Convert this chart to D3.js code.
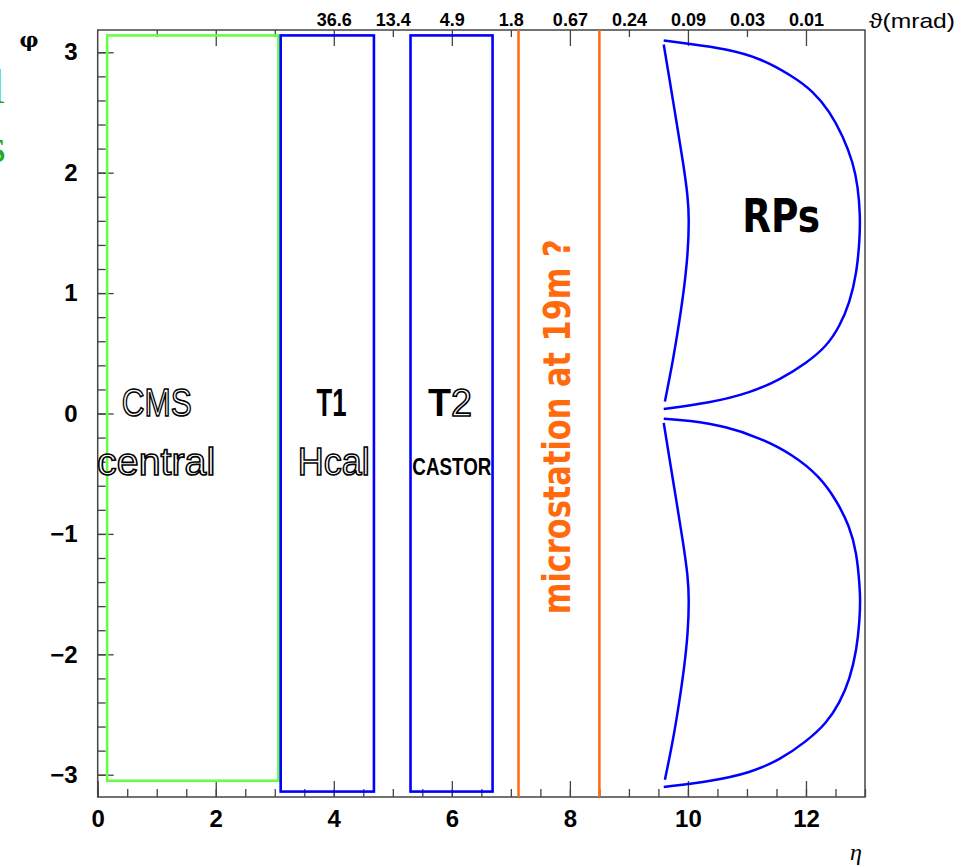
<!DOCTYPE html>
<html>
<head>
<meta charset="utf-8">
<script src="https://cdn.jsdelivr.net/npm/d3@7"></script>
<style>
  html, body { margin: 0; padding: 0; background: #fff; }
  svg { display: block; }
</style>
</head>
<body>
<svg id="chart" width="974" height="867"></svg>
<script>
// Forward detector acceptance in the (eta, phi) plane

// Detector boxes
const detectorNames  = ["CMS central", "T1 Hcal", "T2 CASTOR"];
const detectorEtaMin = [0.16, 3.10, 5.30];
const detectorEtaMax = [3.06, 4.68, 6.69];
const detectorPhiMin = [-3.05, -3.14, -3.14];
const detectorPhiMax = [3.14, 3.14, 3.14];

// Candidate microstation positions (eta)
const microstationEta = [7.13, 8.50];

// Axis ticks
const etaTicks = [0, 2, 4, 6, 8, 10, 12];
const phiTicks = [-3, -2, -1, 0, 1, 2, 3];
const thetaTickEta = [4, 5, 6, 7, 8, 9, 10, 11, 12];
const thetaTickLabels = ["36.6", "13.4", "4.9", "1.8", "0.67", "0.24", "0.09", "0.03", "0.01"];

// Roman Pot acceptance contours, [eta, phi]
const rpUpperOuter = [
  [9.59, 3.097], [10.00, 3.072], [10.65, 3.028], [11.22, 2.953], [11.78, 2.80],
  [12.12, 2.676], [12.40, 2.51], [12.63, 2.30], [12.80, 2.08], [12.88, 1.887],
  [12.92, 1.64], [12.91, 1.444], [12.86, 1.168], [12.74, 0.918], [12.57, 0.724],
  [12.35, 0.558], [12.01, 0.42], [11.56, 0.281], [11.05, 0.171], [10.37, 0.088],
  [9.59, 0.038]
];
const rpUpperInner = [
  [9.59, 3.064], [9.69, 2.77], [9.81, 2.41], [9.92, 2.08], [10.00, 1.80],
  [10.02, 1.61], [10.00, 1.334], [9.94, 1.056], [9.86, 0.78], [9.75, 0.447],
  [9.61, 0.10]
];
const rpLowerOuter = [
  [9.59, -0.043], [10.00, -0.057], [10.65, -0.107], [11.22, -0.203], [11.78, -0.342],
  [12.23, -0.522], [12.51, -0.716], [12.74, -0.937], [12.86, -1.158], [12.91, -1.436],
  [12.92, -1.546], [12.91, -1.713], [12.86, -1.962], [12.74, -2.211], [12.57, -2.404],
  [12.35, -2.571], [12.01, -2.723], [11.56, -2.875], [11.05, -2.986], [10.37, -3.056],
  [9.59, -3.102]
];
const rpLowerInner = [
  [9.59, -0.078], [9.69, -0.383], [9.81, -0.743], [9.92, -1.075], [10.00, -1.353],
  [10.02, -1.546], [10.00, -1.823], [9.94, -2.10], [9.86, -2.377], [9.75, -2.71],
  [9.61, -3.042]
];

const svg = d3.select("#chart");
const frame = { left: 97.7, right: 865, top: 30, bottom: 797 };

const x = d3.scaleLinear().domain([0, 13]).range([frame.left, frame.right]);
const y = d3.scaleLinear().domain([-3.185, 3.185]).range([frame.bottom, frame.top]);

const axisColor = "#444";
const sans = "Liberation Sans, Arial, sans-serif";

// Slide text cut at the left border
svg.append("text").attr("x", 5).attr("y", 103).attr("text-anchor", "end")
  .attr("font-family", "Liberation Serif").attr("font-size", 48)
  .attr("fill", "#22aa22").text("l");
svg.append("text").attr("x", 6).attr("y", 162).attr("text-anchor", "end")
  .attr("font-family", "Liberation Serif").attr("font-size", 48)
  .attr("fill", "#22aa22").text("s");

// ---- axes ----
function styleAxis(g) {
  g.select(".domain").remove();
  g.selectAll(".tick line").attr("stroke", axisColor).attr("stroke-width", 1.3);
  g.selectAll(".tick text").attr("fill", "#000");
}

// bottom eta axis: minor ticks every 0.5, major every 2
svg.append("g").attr("transform", `translate(0,${frame.bottom})`)
  .call(d3.axisBottom(x).tickValues(d3.range(0, 13.01, 0.5)).tickSize(-8).tickFormat(""))
  .call(styleAxis);
svg.append("g").attr("transform", `translate(0,${frame.bottom})`)
  .call(d3.axisBottom(x).tickValues(etaTicks).tickSize(-16).tickPadding(13).tickFormat(d3.format("d")))
  .call(styleAxis)
  .call(g => g.selectAll(".tick text")
    .attr("font-family", sans).attr("font-weight", "bold")
    .attr("font-size", 24));

// left phi axis: minor ticks every 0.2
svg.append("g").attr("transform", `translate(${frame.left},0)`)
  .call(d3.axisLeft(y).tickValues(d3.range(-3, 3.001, 0.2)).tickSize(-8).tickFormat(""))
  .call(styleAxis);
svg.append("g").attr("transform", `translate(${frame.left},0)`)
  .call(d3.axisLeft(y).tickValues(phiTicks).tickSize(-16).tickPadding(20)
    .tickFormat(d => d < 0 ? "\u2212" + Math.abs(d) : String(d)))
  .call(styleAxis)
  .call(g => g.selectAll(".tick text")
    .attr("font-family", sans).attr("font-weight", "bold")
    .attr("font-size", 24));

// top theta axis: long ticks at even eta, short at odd eta
svg.append("g").attr("transform", `translate(0,${frame.top})`)
  .call(d3.axisTop(x).tickValues(d3.range(1, 13, 2)).tickSize(-7).tickFormat(""))
  .call(styleAxis);
svg.append("g").attr("transform", `translate(0,${frame.top})`)
  .call(d3.axisTop(x).tickValues(d3.range(2, 13, 2)).tickSize(-16).tickFormat(""))
  .call(styleAxis);
svg.append("g").attr("transform", `translate(0,${frame.top})`)
  .call(d3.axisTop(x).tickValues(thetaTickEta).tickSize(0).tickPadding(4)
    .tickFormat((d, i) => thetaTickLabels[i]))
  .call(styleAxis)
  .call(g => g.selectAll(".tick text")
    .attr("font-family", sans).attr("font-weight", "bold")
    .attr("font-size", 18));

// frame
svg.append("rect")
  .attr("x", frame.left).attr("y", frame.top)
  .attr("width", frame.right - frame.left).attr("height", frame.bottom - frame.top)
  .attr("fill", "none").attr("stroke", axisColor).attr("stroke-width", 1.5);

// axis titles
svg.append("text").attr("x", 869).attr("y", 28)
  .attr("font-family", sans).attr("font-size", 21)
  .attr("textLength", 86).attr("lengthAdjust", "spacingAndGlyphs")
  .text("\u03d1(mrad)");
svg.append("text").attr("x", 29).attr("y", 47).attr("text-anchor", "middle")
  .attr("font-family", "DejaVu Serif, serif").attr("font-weight", "bold").attr("font-size", 21)
  .text("\u03c6");
svg.append("text").attr("x", 856).attr("y", 860).attr("text-anchor", "middle")
  .attr("font-family", "Liberation Serif, serif").attr("font-style", "italic").attr("font-size", 24)
  .text("\u03b7");

// ---- detector boxes ----
const boxColors = ["#66ff44", "#0000ff", "#0000ff"];
const boxes = detectorNames.map((n, i) => ({
  name: n, e0: detectorEtaMin[i], e1: detectorEtaMax[i],
  p0: detectorPhiMin[i], p1: detectorPhiMax[i], color: boxColors[i]
}));
svg.append("g").selectAll("rect").data(boxes).join("rect")
  .attr("x", d => x(d.e0)).attr("y", d => y(d.p1))
  .attr("width", d => x(d.e1) - x(d.e0)).attr("height", d => y(d.p0) - y(d.p1))
  .attr("fill", "none").attr("stroke", d => d.color).attr("stroke-width", 2.6);

// microstation lines
svg.append("g").selectAll("line").data(microstationEta).join("line")
  .attr("x1", d => x(d)).attr("x2", d => x(d))
  .attr("y1", frame.top).attr("y2", frame.bottom)
  .attr("stroke", "#ff6a0d").attr("stroke-width", 2.5);

// Roman Pot contours (smoothed B-spline through the sampled points)
const rpLine = d3.line().x(d => x(d[0])).y(d => y(d[1])).curve(d3.curveBasis);
svg.append("g").selectAll("path")
  .data([rpUpperOuter, rpUpperInner, rpLowerOuter, rpLowerInner]).join("path")
  .attr("d", rpLine).attr("fill", "none").attr("stroke", "#0000ff").attr("stroke-width", 2.5);

// ---- labels ----
function label(txt, eta, phi, size, len, opts = {}) {
  const t = svg.append("text")
    .attr("x", x(eta)).attr("y", y(phi))
    .attr("text-anchor", "middle")
    .attr("font-family", opts.family || sans)
    .attr("font-size", size)
    .attr("font-weight", opts.weight || "normal")
    .attr("textLength", len).attr("lengthAdjust", "spacingAndGlyphs");
  if (opts.outline) {
    t.attr("fill", "#fff").attr("stroke", "#000").attr("stroke-width", 1.6);
  } else {
    t.attr("fill", opts.fill || "#000");
  }
  t.text(txt);
  return t;
}
label("CMS", 1.0, -0.02, 39, 70, { outline: true });
label("central", 0.99, -0.51, 39, 118, { outline: true });
label("T1", 3.96, -0.02, 39, 30, { weight: "bold" });
label("Hcal", 4.0, -0.51, 39, 72, { outline: true });
const t2 = svg.append("text")
  .attr("x", x(5.97)).attr("y", y(-0.02)).attr("text-anchor", "middle")
  .attr("font-family", sans).attr("font-size", 39)
  .attr("textLength", 44).attr("lengthAdjust", "spacingAndGlyphs");
t2.append("tspan").attr("font-weight", "bold").attr("fill", "#000").text("T");
t2.append("tspan").attr("fill", "#fff").attr("stroke", "#000").attr("stroke-width", 1.6).text("2");
label("CASTOR", 6.0, -0.51, 24, 79, { weight: "bold" });
label("RPs", 11.58, 1.51, 46, 78, { weight: "bold", family: "DejaVu Sans, sans-serif" });

// microstation caption, rotated
svg.append("text")
  .attr("transform", `translate(${x(8.0)},${y(-0.11)}) rotate(-90)`)
  .attr("text-anchor", "middle")
  .attr("font-family", "DejaVu Sans, sans-serif").attr("font-weight", "bold")
  .attr("font-size", 37).attr("fill", "#ff6a0d")
  .attr("textLength", 375).attr("lengthAdjust", "spacingAndGlyphs")
  .text("microstation at 19m ?");
</script>
</body>
</html>
